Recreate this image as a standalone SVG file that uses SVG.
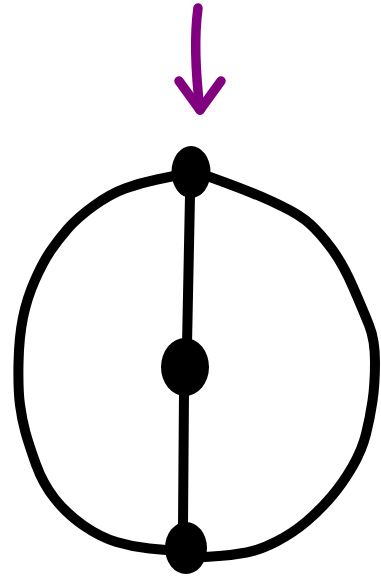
<svg xmlns="http://www.w3.org/2000/svg" width="381" height="580" viewBox="0 0 381 580">
<style>
.edge{fill:none;stroke:#000;stroke-width:10;stroke-linecap:round;stroke-linejoin:round}
.arrow{fill:none;stroke:#800080;stroke-width:9.5;stroke-linecap:round;stroke-linejoin:round}
.dot{fill:#000}
</style>
<rect width="381" height="580" fill="#fff"/>
<g id="connectors">
<path class="edge" d="M174,176 L157,179.5 Q140,183 125,188.5 Q110,194 93.5,206 Q77,218 67.5,229 Q58,240 50.5,251 Q43,262 35,280 Q27,298 23,317.5 Q19,337 18.5,363.5 Q18,390 20,405 Q22,420 25.5,432.5 Q29,445 36,464.5 Q43,484 55,499 Q67,514 83.5,525.5 Q100,537 116.5,542 Q133,547 149.5,548.5 L166,550"/>
<path class="edge" d="M210,177 L225,182.5 Q240,188 253.5,193.5 Q267,199 283.5,207 Q300,215 310,224 Q320,233 331.5,248.5 Q343,264 353,287 Q363,310 369,325 Q375,340 375,362 Q375,384 372.5,401 Q370,418 366,434 Q362,450 352.5,466.5 Q343,483 331.5,496.5 Q320,510 306.5,521.5 Q293,533 276.5,541.5 Q260,550 246.5,552.5 Q233,555 219,556 L205,557"/>
<path class="edge" d="M190,196 L187,345"/>
<path class="edge" d="M184,392 L183,526"/>
<g id="arrow">
<path class="arrow" d="M198,8 C195,30 194,60 200,110"/>
<path class="arrow" d="M179,81 L200,110 L221,81"/>
</g>
</g>
<g id="node-top"><ellipse class="dot" cx="191" cy="172" rx="19.5" ry="26"/></g>
<g id="node-middle"><ellipse class="dot" cx="185" cy="367" rx="24" ry="29"/></g>
<g id="node-bottom"><ellipse class="dot" cx="186" cy="548" rx="21" ry="26"/></g>
</svg>
